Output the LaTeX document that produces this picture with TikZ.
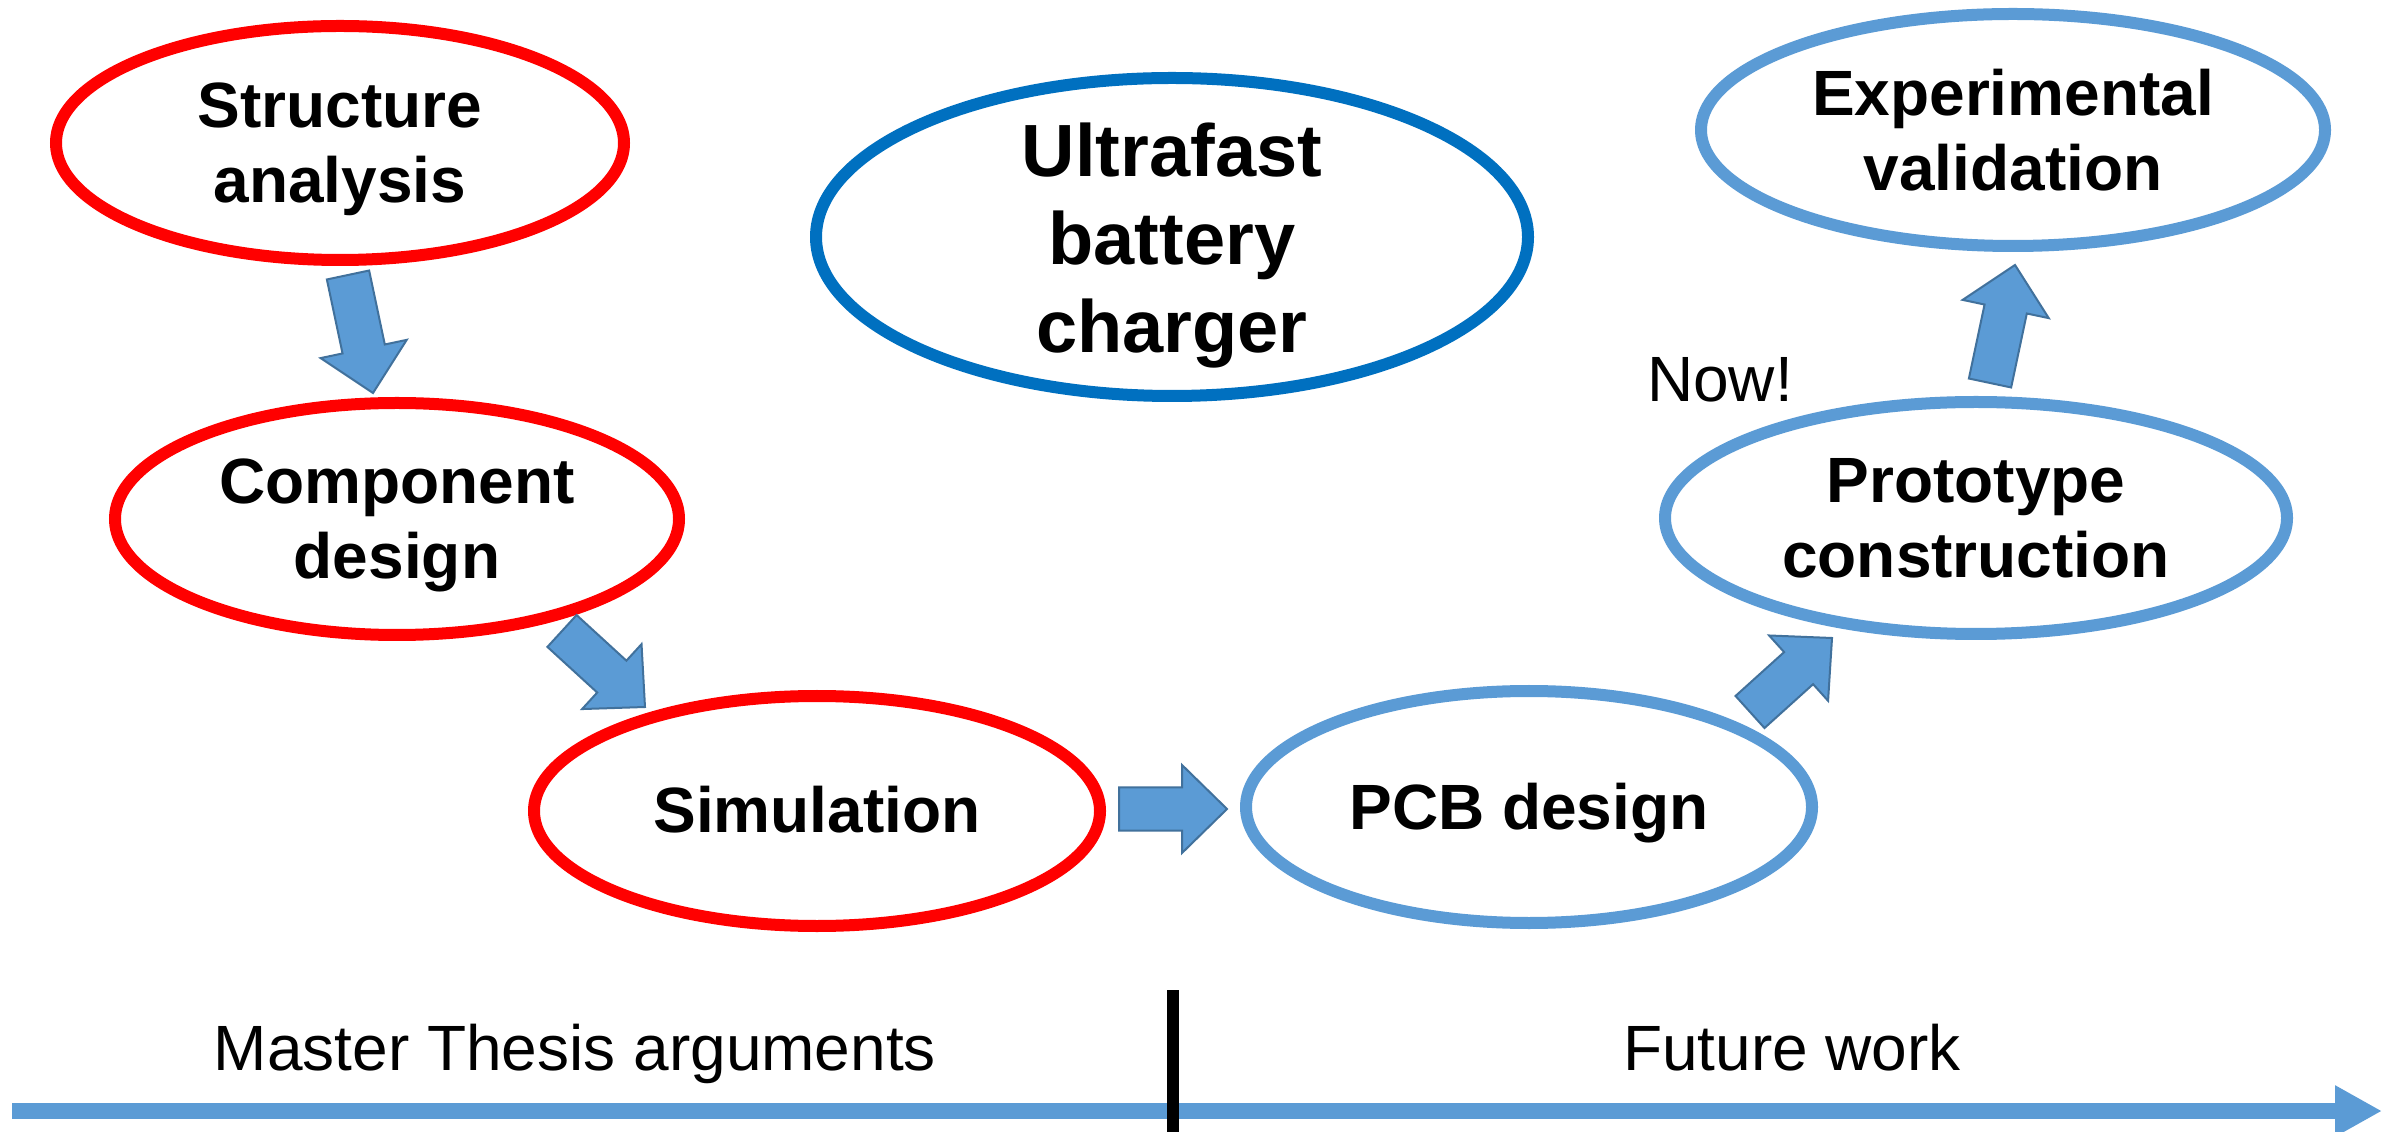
\documentclass[tikz,border=0pt]{standalone}
\usepackage{fontspec}
\setmainfont{Liberation Sans}
\usetikzlibrary{shapes.geometric,calc,arrows.meta}
\definecolor{stagered}{HTML}{FF0000}
\definecolor{lightblue}{HTML}{5B9BD5}
\definecolor{deepblue}{HTML}{0070C0}
\definecolor{arrowedge}{HTML}{41719C}

% block arrow: #1 name, #2 tail point, #3 tip point
\newcommand\stagearrow[3]{%
  \coordinate (#1-s) at (#2);
  \coordinate (#1-e) at (#3);
  \coordinate (#1-h) at ($(#1-e)!11.25pt!(#1-s)$);
  \path[blockarrow]
    ($(#1-s)!5.4pt!90:(#1-e)$) -- ($(#1-h)!5.4pt!90:(#1-e)$) --
    ($(#1-h)!11pt!90:(#1-e)$) -- (#1-e) --
    ($(#1-h)!11pt!-90:(#1-e)$) -- ($(#1-h)!5.4pt!-90:(#1-e)$) --
    ($(#1-s)!5.4pt!-90:(#1-e)$) -- cycle;
}

\begin{document}
\begin{tikzpicture}[x=0.25pt,y=-0.25pt,
  stage/.style={ellipse, draw, line width=3pt, inner sep=0pt},
  donestage/.style={stage, draw=stagered},
  nextstage/.style={stage, draw=lightblue},
  stagetext/.style={font=\fontsize{16}{18.75}\selectfont\bfseries, align=center, inner sep=0pt},
  titletext/.style={font=\fontsize{18.5}{22}\selectfont\bfseries, align=center, inner sep=0pt},
  plaintext/.style={font=\fontsize{16}{18.75}\selectfont, inner sep=0pt, anchor=base},
  blockarrow/.style={fill=lightblue, draw=arrowedge, line width=0.5pt, line join=miter},
]
\useasboundingbox (0,0) rectangle (2396,1132);
\fill[white] (0,0) rectangle (2396,1132);

% stages already covered
\node[donestage, minimum width=142pt, minimum height=58.5pt] (sa) at (340,143) {};
\node[stagetext] (sa-t) at (340,149) {Structure\\analysis};
\node[donestage, minimum width=141pt, minimum height=58pt] (cd) at (397,519) {};
\node[stagetext] (cd-t) at (397,525) {Component\\design};
\node[donestage, minimum width=141.5pt, minimum height=57.5pt] (sim) at (817,811) {};
\node[stagetext] (sim-t) at (817,810) {Simulation};

% central topic
\node[stage, draw=deepblue, minimum width=178pt, minimum height=79.5pt] (ubc) at (1172,237) {};
\node[titletext] (ubc-t) at (1172,246) {Ultrafast\\battery\\charger};

% stages still to come
\node[nextstage, minimum width=141.5pt, minimum height=58pt] (pcb) at (1529,807) {};
\node[stagetext] (pcb-t) at (1529,813) {PCB design};
\node[nextstage, minimum width=155.5pt, minimum height=58pt] (pc) at (1976,518) {};
\node[stagetext] (pc-t) at (1976,518) {Prototype\\construction};
\node[nextstage, minimum width=156pt, minimum height=58pt] (ev) at (2013,130) {};
\node[stagetext] (ev-t) at (2013,130) {Experimental\\validation};

% flow arrows
\stagearrow{a1}{348,275}{373,393}
\stagearrow{a2}{562,631}{645,707}
\stagearrow{a3}{1119,809}{1227,809}
\stagearrow{a4}{1750,712}{1832,638}
\stagearrow{a5}{1990,383}{2015,265}

\node[plaintext] (now) at (1720,402) {Now!};

% time line
\coordinate (tl-start) at (12,1111);
\coordinate (tl-end) at (2382,1111);
\draw[lightblue, line width=4pt, -{Triangle[length=11.75pt,width=12pt]}] (tl-start) -- (tl-end);
\coordinate (split-top) at (1173,990);
\coordinate (split-bot) at (1173,1132);
\draw[black, line width=3pt] (split-top) -- (split-bot);
\node[plaintext] (past) at (575,1070) {Master Thesis arguments};
\node[plaintext] (future) at (1792,1070) {Future work};
\end{tikzpicture}
\end{document}
